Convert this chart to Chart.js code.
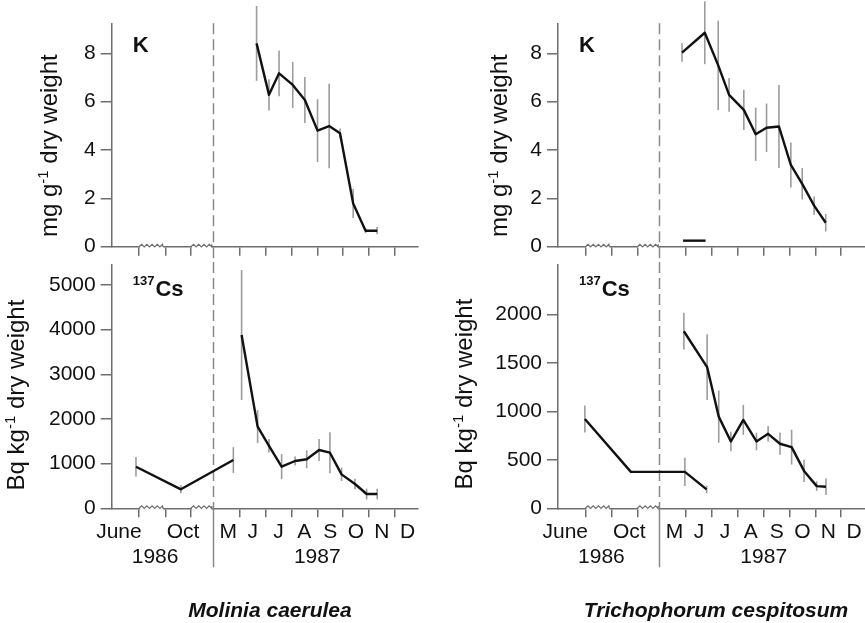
<!DOCTYPE html>
<html><head><meta charset="utf-8">
<script src="https://cdn.jsdelivr.net/npm/chart.js@4"></script>
<style>
body{margin:0;background:#fff;}
#wrap{position:relative;width:865px;height:623px;overflow:hidden;background:#fff}
canvas{position:absolute}
.sp{position:absolute;top:598px;line-height:24px;font:italic bold 21px "Liberation Sans",Arial,Helvetica,sans-serif;color:#111;white-space:nowrap;transform:translateX(-50%)}
</style></head><body>
<div id="wrap">
<canvas id="c1" width="432" height="262" style="left:0;top:0"></canvas>
<canvas id="c2" width="432" height="361" style="left:0;top:262px"></canvas>
<canvas id="c3" width="433" height="262" style="left:432px;top:0"></canvas>
<canvas id="c4" width="433" height="361" style="left:432px;top:262px"></canvas>
<div class="sp" style="left:270px">Molinia caerulea</div>
<div class="sp" style="left:716px">Trichophorum cespitosum</div>
</div>
<script>
const FONT = '"Liberation Sans", Arial, Helvetica, sans-serif';
Chart.defaults.font.family = FONT;
Chart.defaults.color = '#111';
const AXIS = '#6e6e6e';

// x in months counted from 1 May 1987 (1986 part is a compressed, broken axis)
const tickMarks = [-2.9, -1.87, -0.89, 1, 2, 3, 4, 5, 6, 7];
const labelPos  = [-3.68, -1.2, 0.55, 1.5, 2.5, 3.5, 4.5, 5.5, 6.5, 7.5, -2.28, 4.0];
const labelTxt  = ['June','Oct','M','J','J','A','S','O','N','D',['','1986'],['','1987']];
const breakSegs = [[-2.9,-1.97],[-0.89,-0.08]];

const kTicks   = [0,2,4,6,8];
const mCsTicks = [0,1000,2000,3000,4000,5000];
const tCsTicks = [0,500,1000,1500,2000];

// Molinia caerulea - K (mg/g)
const molK_x = [1.65, 2.13, 2.52, 3.05, 3.52, 4.01, 4.46, 4.88, 5.39, 5.87, 6.32];
const molK_y = [8.41, 6.28, 7.17, 6.69, 6.07, 4.80, 4.99, 4.69, 1.79, 0.66, 0.66];
const molK_e = [1.55, 0.65, 0.95, 0.95, 0.95, 1.30, 1.75, 0.20, 0.60, 0.10, 0.15];

// Molinia caerulea - 137Cs (Bq/kg)
const molCsOld_x = [-3.02, -1.28, 0.75];
const molCsOld_y = [930, 425, 1080];
const molCsOld_e = [220, 90, 290];
const molCs_x = [1.07, 1.69, 2.13, 2.62, 3.14, 3.59, 4.07, 4.49, 4.94, 5.46, 5.91, 6.32];
const molCs_y = [3880, 1828, 1400, 932, 1059, 1097, 1305, 1245, 760, 544, 320, 320];
const molCs_e = [1455, 370, 150, 280, 100, 200, 245, 460, 150, 120, 120, 120];

// Trichophorum cespitosum - K (mg/g)
const triK_x = [0.84, 1.72, 2.24, 2.66, 3.23, 3.69, 4.11, 4.59, 5.05, 5.49, 5.95, 6.40];
const triK_y = [8.03, 8.85, 7.5, 6.28, 5.66, 4.65, 4.92, 4.97, 3.38, 2.6, 1.7, 0.99];
const triK_e = [0.38, 1.3, 1.85, 0.7, 0.83, 1.1, 1.0, 1.72, 0.93, 0.65, 0.38, 0.36];
const triKLow_x = [0.88, 1.75];
const triKLow_y = [0.25, 0.25];

// Trichophorum cespitosum - 137Cs (Bq/kg)
const triCsOld_x = [-2.92, -1.14, 0.95, 1.79];
const triCsOld_y = [923, 376, 376, 195];
const triCsOld_e = [140, 0, 145, 40];
const triCs_x = [0.91, 1.81, 2.26, 2.73, 3.21, 3.72, 4.17, 4.63, 5.08, 5.56, 6.05, 6.41];
const triCs_y = [1829, 1459, 947, 690, 913, 690, 769, 667, 632, 386, 229, 222];
const triCs_e = [190, 340, 270, 100, 155, 90, 80, 115, 180, 115, 50, 85];

const X_MIN = -3.96, X_MAX = 7.9;

function series(xs, ys, es){
  return {data: xs.map((x,i)=>({x:x, y:ys[i]})), errs: es || null,
    borderColor:'#111', borderWidth:2.4, pointRadius:0, tension:0, fill:false, clip:false,
    borderJoinStyle:'round', borderCapStyle:'butt'};
}

function drawRich(ctx, parts, cx, cy){
  ctx.save();
  ctx.translate(cx, cy); ctx.rotate(-Math.PI/2);
  let total = 0;
  parts.forEach(p=>{ ctx.font = p.f; p.w = ctx.measureText(p.t).width; total += p.w; });
  let x = -total/2;
  ctx.textBaseline = 'alphabetic'; ctx.fillStyle = '#111';
  parts.forEach(p=>{ ctx.font = p.f; ctx.fillText(p.t, x, p.dy); x += p.w; });
  ctx.restore();
}

const deco = {
  id:'deco',
  beforeDatasetsDraw(chart, args, o){
    const ctx = chart.ctx, a = chart.chartArea, xs = chart.scales.x, ys = chart.scales.y;
    ctx.save();
    // axis breaks
    breakSegs.forEach(seg=>{
      const p1 = xs.getPixelForValue(seg[0]), p2 = xs.getPixelForValue(seg[1]), y = a.bottom;
      ctx.fillStyle = '#fff'; ctx.fillRect(p1+1, y-1.6, p2-p1-1, 3.2);
      ctx.strokeStyle = AXIS; ctx.lineWidth = 1.2; ctx.beginPath();
      let x = p1, k = 0; ctx.moveTo(x, y);
      while (x < p2){ x = Math.min(p2, x+2.6); k++; ctx.lineTo(x, y + (k%2 ? -2.4 : 0.2)); }
      ctx.stroke();
    });
    // divider
    const dx = Math.round(xs.getPixelForValue(0)) - 0.5;
    ctx.strokeStyle = '#8a8a8a'; ctx.lineWidth = 1.5; ctx.setLineDash([11,5]);
    ctx.beginPath();
    ctx.moveTo(dx, o.top ? a.top : 0); ctx.lineTo(dx, o.top ? chart.height : a.bottom); ctx.stroke();
    if (!o.top){ ctx.setLineDash([]); ctx.beginPath(); ctx.moveTo(dx, a.bottom); ctx.lineTo(dx, a.bottom+59); ctx.stroke(); }
    // error bars
    ctx.setLineDash([]); ctx.strokeStyle = '#9c9c9c'; ctx.lineWidth = 1.6;
    chart.data.datasets.forEach((ds,i)=>{
      if (!ds.errs) return;
      const meta = chart.getDatasetMeta(i);
      ds.errs.forEach((e,j)=>{
        if (!e) return;
        const px = meta.data[j].x, v = ds.data[j].y;
        ctx.beginPath();
        ctx.moveTo(px, ys.getPixelForValue(v+e));
        ctx.lineTo(px, ys.getPixelForValue(Math.max(0, v-e)));
        ctx.stroke();
      });
    });
    ctx.restore();
  },
  afterDraw(chart, args, o){
    const ctx = chart.ctx, a = chart.chartArea;
    ctx.save(); ctx.fillStyle = '#111'; ctx.textBaseline = 'alphabetic';
    if (o.label === 'K'){
      ctx.font = 'bold 22px ' + FONT;
      ctx.fillText('K', a.left+21, a.top+28.6);
    } else {
      ctx.font = 'bold 13px ' + FONT;
      ctx.fillText('137', a.left+21, a.top+20);
      const w = ctx.measureText('137').width;
      ctx.font = 'bold 22px ' + FONT;
      ctx.fillText('Cs', a.left+21+w+1, a.top+31);
    }
    ctx.restore();
    const big = '24px ' + FONT, small = '15px ' + FONT;
    const parts = o.label === 'K'
      ? [{t:'mg g', f:big, dy:6},{t:'-1', f:small, dy:-3},{t:' dry weight', f:big, dy:6}]
      : [{t:'Bq kg', f:big, dy:6},{t:'-1', f:small, dy:-3},{t:' dry weight', f:big, dy:6}];
    drawRich(ctx, parts, a.left - o.tdx, (a.top+a.bottom)/2 + o.tdy);
  }
};

function build(id, o){
  return new Chart(document.getElementById(id), {
    type:'line',
    data:{datasets:o.datasets},
    options:{
      responsive:false, animation:false, events:[],
      layout:{padding:{top:o.padTop, right:o.padRight, left:0, bottom:0}},
      plugins:{legend:{display:false}, tooltip:{enabled:false},
        deco:{top:o.top, label:o.label, tdx:o.tdx, tdy:o.tdy}},
      scales:{
        x:{type:'linear', min:X_MIN, max:X_MAX,
          afterFit:s=>{ s.height = o.xH; s.paddingLeft = 0; s.paddingRight = 0; },
          afterBuildTicks:s=>{
            let t = tickMarks.map(v=>({value:v, mark:true, lbl:''}));
            if (!o.top) t = t.concat(labelPos.map((v,i)=>({value:v, mark:false, lbl:labelTxt[i]})));
            s.ticks = t;
          },
          ticks:{display:!o.top, autoSkip:false, maxRotation:0, minRotation:0, padding:2,
            font:{size:21}, color:'#111', callback:(v,i,t)=>t[i].lbl},
          grid:{display:true, drawOnChartArea:false, drawTicks:true, tickLength:9, lineWidth:1.5,
            color:c=> (c.tick && c.tick.mark) ? AXIS : 'rgba(0,0,0,0)'},
          border:{display:true, color:AXIS, width:1.5}},
        y:{type:'linear', min:0, max:o.yMax,
          afterFit:s=>{ s.width = o.yW; s.paddingTop = 0; s.paddingBottom = 0; },
          afterBuildTicks:s=>{ s.ticks = o.yTicks.map(v=>({value:v})); },
          ticks:{padding:5, font:{size:21}, color:'#111', callback:v=>String(v)},
          grid:{display:true, drawOnChartArea:false, drawTicks:true, tickLength:11, lineWidth:1.5, color:AXIS},
          border:{display:true, color:AXIS, width:1.5}}
      }
    },
    plugins:[deco]
  });
}

build('c1', {top:true, label:'K', padTop:23.3, padRight:14, xH:15.3, yW:111.7, yMax:9.24, yTicks:kTicks, tdx:60.7, tdy:10.7,
  datasets:[series(molK_x, molK_y, molK_e)]});
build('c2', {top:false, label:'Cs', padTop:3, padRight:14, xH:114.7, yW:111.7, yMax:5448, yTicks:mCsTicks, tdx:94.2, tdy:8.4,
  datasets:[series(molCsOld_x, molCsOld_y, molCsOld_e), series(molCs_x, molCs_y, molCs_e)]});
build('c3', {top:true, label:'K', padTop:23.3, padRight:0.5, xH:15.3, yW:126, yMax:9.24, yTicks:kTicks, tdx:57, tdy:10.7,
  datasets:[series(triK_x, triK_y, triK_e), series(triKLow_x, triKLow_y, null)]});
build('c4', {top:false, label:'Cs', padTop:3, padRight:0.5, xH:114.7, yW:126, yMax:2513, yTicks:tCsTicks, tdx:92, tdy:7.4,
  datasets:[series(triCsOld_x, triCsOld_y, triCsOld_e), series(triCs_x, triCs_y, triCs_e)]});
</script>
</body></html>
